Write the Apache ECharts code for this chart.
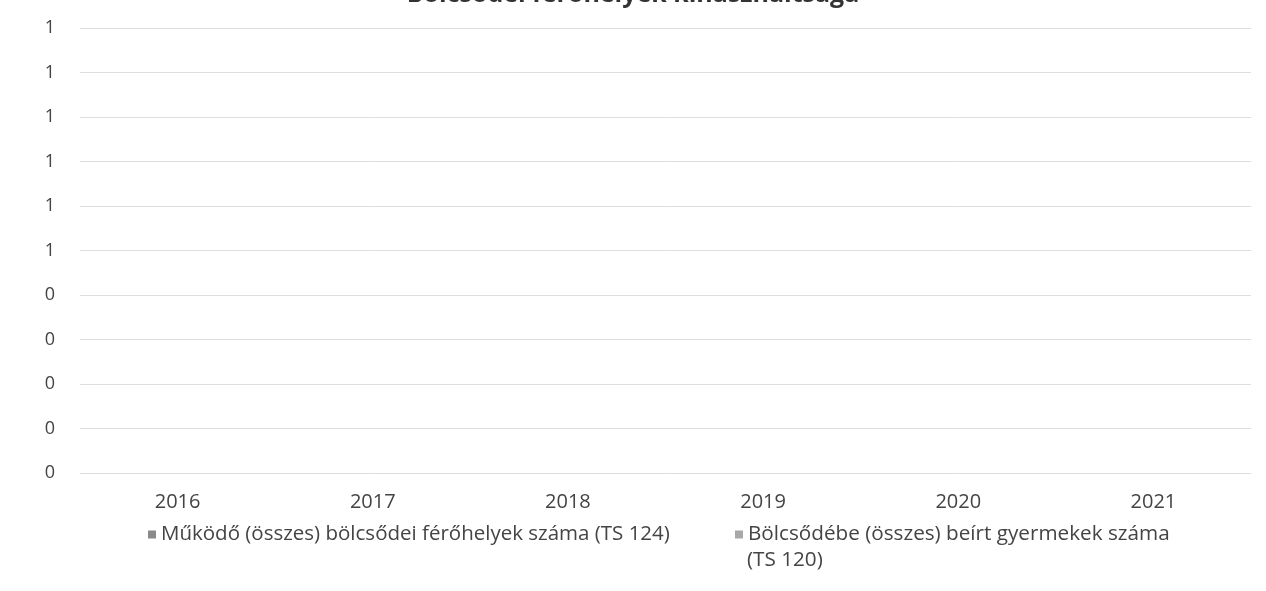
<!DOCTYPE html>
<html>
<head>
<meta charset="utf-8">
<script src="https://cdn.jsdelivr.net/npm/echarts@6/dist/echarts.min.js"></script>
<style>
html,body{margin:0;padding:0;background:#fff;}
#chart{width:1266px;height:591px;}
</style>
</head>
<body>
<div id="chart"></div>
<script>
const titleText = 'Bölcsődei férőhelyek kihasználtsága';
const years = ['2016', '2017', '2018', '2019', '2020', '2021'];
const seriesNames = ['Működő (összes) bölcsődei férőhelyek száma (TS 124)', 'Bölcsődébe (összes) beírt gyermekek száma (TS 120)'];
const legendWrapTail = '(TS 120)';
const placesTS124 = [null, null, null, null, null, null];
const enrolledTS120 = [null, null, null, null, null, null];
const yMin = 0, yMax = 1, yStep = 0.1;

const FONT = 'Open Sans';
const TXT = '#444';
const chart = echarts.init(document.getElementById('chart'));
chart.setOption({
  backgroundColor: '#ffffff',
  animation: false,
  textStyle: { fontFamily: FONT },
  title: {
    text: titleText,
    left: 'center',
    top: -23,
    textStyle: { fontFamily: FONT, fontSize: 25, fontWeight: 'bold', color: '#333' }
  },
  legend: [
    {
      data: [seriesNames[0]],
      left: 143, top: 519,
      itemWidth: 8, itemHeight: 8, itemGap: 6,
      icon: 'rect',
      textStyle: { fontFamily: FONT, fontSize: 20.5, color: TXT }
    },
    {
      data: [seriesNames[1]],
      left: 730, top: 519,
      itemWidth: 8, itemHeight: 8,
      icon: 'rect',
      formatter: function (n) { return n.replace(' ' + legendWrapTail, ''); },
      textStyle: { fontFamily: FONT, fontSize: 20.7, color: TXT }
    }
  ],
  graphic: [
    {
      type: 'text', left: 747, top: 550,
      style: { text: legendWrapTail, font: '20.7px "Open Sans"', fill: TXT }
    }
  ],
  grid: { left: 80, right: 15, top: 28, bottom: 118, containLabel: false },
  xAxis: {
    type: 'category',
    data: years,
    axisLine: { show: false },
    axisTick: { show: false },
    axisLabel: { margin: 19, fontFamily: FONT, fontSize: 20, color: TXT }
  },
  yAxis: {
    type: 'value',
    min: yMin, max: yMax, interval: yStep,
    axisLine: { show: false },
    axisTick: { show: false },
    splitLine: { lineStyle: { color: '#dedede', width: 1 } },
    axisLabel: {
      margin: 25, fontFamily: FONT, fontSize: 18, color: TXT,
      formatter: function (v) { return String(Math.round(v)); }
    }
  },
  series: [
    { name: seriesNames[0], type: 'bar', data: placesTS124, itemStyle: { color: '#8a8a8a' } },
    { name: seriesNames[1], type: 'bar', data: enrolledTS120, itemStyle: { color: '#a8a8a8' } }
  ]
});
</script>
</body>
</html>
